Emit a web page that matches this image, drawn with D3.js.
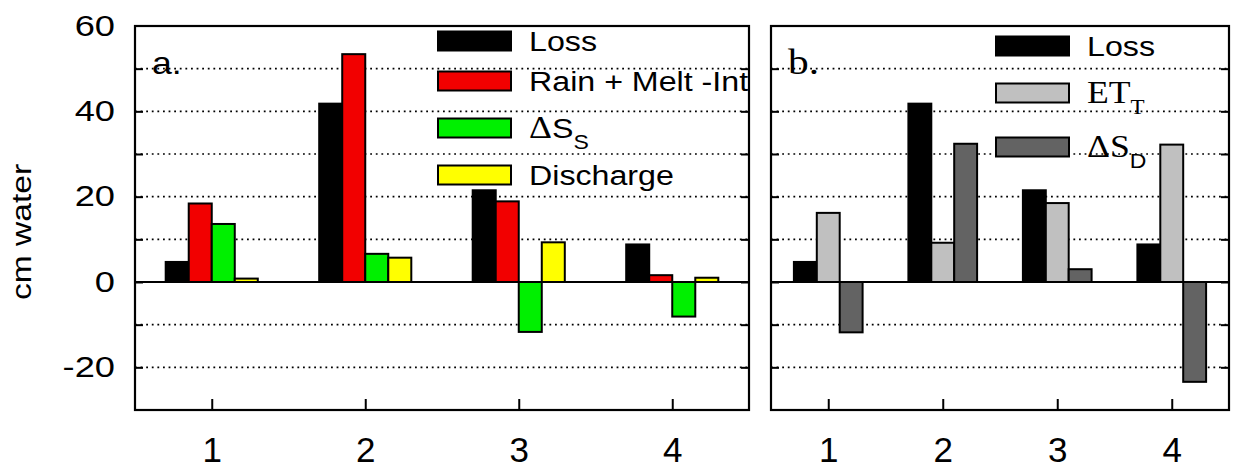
<!DOCTYPE html>
<html>
<head>
<meta charset="utf-8">
<script src="https://cdn.jsdelivr.net/npm/d3@7"></script>
<style>
  body { margin: 0; background: #fff; }
  svg { display: block; font-family: "Liberation Sans", Arial, sans-serif; }
</style>
</head>
<body>
<div id="main"></div>
<script>
// values (cm water)
var categories = [1, 2, 3, 4];
var lossValues = [4.7, 41.8, 21.5, 8.8];
var rainMeltValues = [18.4, 53.4, 18.9, 1.6];
var deltaSsValues = [13.6, 6.6, -11.7, -8.1];
var dischargeValues = [0.8, 5.7, 9.3, 1.0];
var etValues = [16.2, 9.2, 18.5, 32.2];
var deltaSdValues = [-11.8, 32.4, 3.0, -23.4];
var yTickLabels = [-20, 0, 20, 40, 60];
var gridValues = [-20, -10, 10, 20, 30, 40, 50];

var ctx = {
    w: 1234,
    h: 470,
    top: 26,
    bottom: 410,
    groupWidth: 0.6,
    sx: 1.15,     // glyphs in the original are a bit wide
    sans: '"Liberation Sans", Arial, sans-serif',
    serif: '"Liberation Serif", "Times New Roman", serif'
};

var panels = [
    {
        x0: 135, x1: 749, label: "a.", labelFont: "sans",
        legendX: 438, legendY: [41, 81, 128, 175],
        series: [
            { values: lossValues, fill: "#000000", name: [{ t: "Loss" }] },
            { values: rainMeltValues, fill: "#f20000", name: [{ t: "Rain + Melt -Int" }] },
            { values: deltaSsValues, fill: "#00f000", name: [{ t: "\u0394", serif: true }, { t: "S" }, { t: "S", sub: true }] },
            { values: dischargeValues, fill: "#ffff00", name: [{ t: "Discharge" }] }
        ]
    },
    {
        x0: 771, x1: 1229, label: "b.", labelFont: "serif",
        legendX: 996, legendY: [46, 93, 147],
        series: [
            { values: lossValues, fill: "#000000", name: [{ t: "Loss" }] },
            { values: etValues, fill: "#c0c0c0", name: [{ t: "ET", serif: true }, { t: "T", serif: true, sub: true }] },
            { values: deltaSdValues, fill: "#636363", name: [{ t: "\u0394", serif: true }, { t: "S", serif: true }, { t: "D", sub: true }] }
        ]
    }
];

var y = d3.scaleLinear().domain([-30, 60]).range([ctx.bottom, ctx.top]);

var createPanel = function(svg, p, withYLabels){
    var x = d3.scaleLinear().domain([0.5, 4.5]).range([p.x0, p.x1]);
    var n = p.series.length,
        bw = ctx.groupWidth / n;
    var g = svg.append("g");

    // dotted grid
    g.selectAll("line.grid")
     .data(gridValues)
     .enter().append("line")
     .attr("x1", p.x0).attr("x2", p.x1)
     .attr("y1", function(d){ return y(d); })
     .attr("y2", function(d){ return y(d); })
     .attr("stroke", "#000")
     .attr("stroke-width", 1.6)
     .attr("stroke-dasharray", "1.8,3.8");

    // bars
    p.series.forEach(function(s, j){
        g.selectAll("rect.s" + j)
         .data(s.values)
         .enter().append("rect")
         .attr("x", function(d, i){ return x(categories[i] - ctx.groupWidth / 2 + j * bw); })
         .attr("width", x(bw) - x(0))
         .attr("y", function(d){ return Math.min(y(d), y(0)); })
         .attr("height", function(d){ return Math.abs(y(d) - y(0)); })
         .attr("fill", s.fill)
         .attr("stroke", "#000")
         .attr("stroke-width", 2);
    });

    // zero line
    g.append("line")
     .attr("x1", p.x0).attr("x2", p.x1)
     .attr("y1", y(0)).attr("y2", y(0))
     .attr("stroke", "#000").attr("stroke-width", 2);

    // legend
    p.series.forEach(function(s, j){
        var cy = p.legendY[j];
        g.append("rect")
         .attr("x", p.legendX).attr("y", cy - 9.5)
         .attr("width", 73).attr("height", 19)
         .attr("fill", s.fill)
         .attr("stroke", "#000").attr("stroke-width", 2);
        var t = g.append("text")
         .attr("transform", "translate(" + (p.legendX + 91) + "," + (cy + 10) + ") scale(" + ctx.sx + ",1)")
         .attr("font-size", 28);
        s.name.forEach(function(part){
            var ts = t.append("tspan")
                      .text(part.t)
                      .attr("font-family", part.serif ? ctx.serif : ctx.sans);
            if (part.serif) ts.attr("font-size", 31);
            if (part.sub) ts.attr("font-size", 20).attr("dy", 11);
        });
    });

    // panel letter
    g.append("text")
     .attr("transform", "translate(" + (p.x0 + 17) + ",74) scale(" + ctx.sx + ",1)")
     .attr("font-family", p.labelFont === "serif" ? ctx.serif : ctx.sans)
     .attr("font-size", p.labelFont === "serif" ? 36 : 31)
     .text(p.label);

    // inward ticks, left and right, every 10
    var left = g.append("g").attr("transform", "translate(" + p.x0 + ",0)")
                .call(d3.axisRight(y).tickValues(gridValues.concat([0])).tickSize(8).tickFormat(""));
    var right = g.append("g").attr("transform", "translate(" + p.x1 + ",0)")
                .call(d3.axisLeft(y).tickValues(gridValues.concat([0])).tickSize(8).tickFormat(""));
    var bottom = g.append("g").attr("transform", "translate(0," + ctx.bottom + ")")
                .call(d3.axisTop(x).tickValues(categories).tickSize(11).tickFormat(""));
    [left, right, bottom].forEach(function(a){
        a.select(".domain").remove();
        a.selectAll("line").attr("stroke-width", 2);
    });

    // x labels
    var xl = g.append("g").attr("transform", "translate(0," + ctx.bottom + ")")
              .call(d3.axisBottom(x).tickValues(categories).tickSize(0).tickPadding(27)
                      .tickFormat(function(d){ return String(d); }));
    xl.select(".domain").remove();
    xl.selectAll("text").attr("font-size", 35).attr("font-family", ctx.sans).attr("fill", "#000");

    if (withYLabels) {
        var yl = g.append("g").attr("transform", "translate(" + p.x0 + ",0)")
                  .call(d3.axisLeft(y).tickValues(yTickLabels).tickSize(0).tickPadding(16)
                          .tickFormat(function(d){ return String(d); }));
        yl.select(".domain").remove();
        yl.selectAll("text")
          .attr("font-size", 29)
          .attr("font-family", ctx.sans)
          .attr("fill", "#000")
          .attr("transform", "scale(1.25,1)");
    }

    // frame
    g.append("rect")
     .attr("x", p.x0).attr("y", ctx.top)
     .attr("width", p.x1 - p.x0).attr("height", ctx.bottom - ctx.top)
     .attr("fill", "none")
     .attr("stroke", "#000").attr("stroke-width", 2.2);
};

var createViz = function(){
    var svg = d3.select("#main").append("svg")
                .attr("width", ctx.w)
                .attr("height", ctx.h);
    panels.forEach(function(p, i){ createPanel(svg, p, i === 0); });

    // y title
    svg.append("text")
       .attr("transform", "translate(31,232) rotate(-90) scale(1.2,1)")
       .attr("text-anchor", "middle")
       .attr("font-size", 28)
       .text("cm water");
};

createViz();
</script>
</body>
</html>
